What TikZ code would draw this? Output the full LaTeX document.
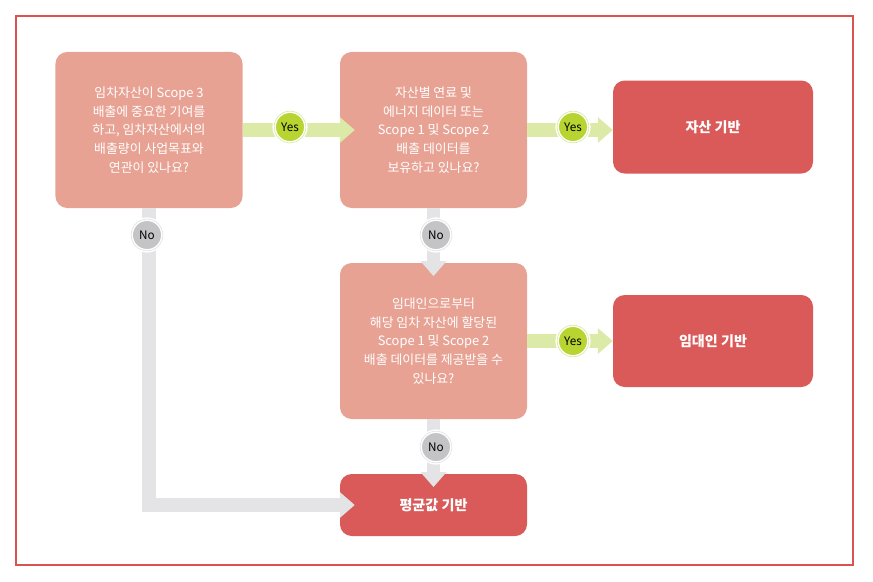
\documentclass[tikz,border=0pt]{standalone}
\usepackage{fontspec}
\setmainfont{Noto Sans CJK KR}
\usetikzlibrary{arrows.meta,positioning}
\definecolor{qbox}{HTML}{E8A294}
\definecolor{rbox}{HTML}{D95A58}
\definecolor{yesline}{HTML}{DCEAA8}
\definecolor{yesdot}{HTML}{B8D430}
\definecolor{noline}{HTML}{E4E4E6}
\definecolor{nodot}{HTML}{C4C4C6}
\definecolor{frame}{HTML}{D9534F}
\begin{document}
\begin{tikzpicture}[x=0.03cm, y=-0.03cm,
    question/.style={fill=qbox, rounded corners=10pt, text=white, align=center,
      minimum width=5.61cm, minimum height=4.68cm, inner sep=0pt,
      font=\fontsize{11pt}{16pt}\selectfont},
    result/.style={fill=rbox, rounded corners=10pt, text=white, align=center,
      minimum width=6cm, font=\bfseries\fontsize{12pt}{16pt}\selectfont},
    yesflow/.style={draw=yesline, line width=0.4cm, -{Triangle[length=0.45cm,width=0.75cm]}},
    noflow/.style={draw=noline, line width=0.4cm, -{Triangle[length=0.45cm,width=0.75cm]}},
    yesbadge/.style={circle, fill=yesdot, draw=white, double=yesline, double distance=0.6pt,
      line width=1.2pt, inner sep=1pt, minimum size=0.95cm, font=\fontsize{10pt}{12pt}\selectfont},
    nobadge/.style={circle, fill=nodot, draw=white, double=noline, double distance=0.6pt,
      line width=1.2pt, inner sep=1pt, minimum size=0.95cm, font=\fontsize{10pt}{12pt}\selectfont}]
  \useasboundingbox (0,0) rectangle (873,581);
  \draw[frame, line width=1pt] (16,16) rectangle (853,565);
  % boxes
  \node[question] (q1) at (149,130) {임차자산이 Scope 3\\배출에 중요한 기여를\\하고, 임차자산에서의\\배출량이 사업목표와\\연관이 있나요?};
  \node[question] (q2) at (433.5,130) {자산별 연료 및\\에너지 데이터 또는\\Scope 1 및 Scope 2\\배출 데이터를\\보유하고 있나요?};
  \node[question] (q3) at (433.5,341) {임대인으로부터\\해당 임차 자산에 할당된\\Scope 1 및 Scope 2\\배출 데이터를 제공받을 수\\있나요?};
  \node[result, minimum height=2.79cm] (r1) at (713,127) {자산 기반};
  \node[result, minimum height=2.76cm] (r2) at (713,341) {임대인 기반};
  \node[result, minimum width=5.61cm, minimum height=1.86cm] (r3) at (433.5,505) {평균값 기반};
  % connectors
  \coordinate (bend) at (q1.south |- r3.west);
  \draw[noflow] (q1.south) -- (bend) -- ([xshift=0.45cm]r3.west);
  \draw[noflow] (q2.south) -- ([yshift=-0.4cm]q3.north);
  \draw[noflow] (q3.south) -- ([yshift=-0.4cm]r3.north);
  \draw[yesflow] (q1.east) -- ([xshift=0.45cm]q2.west);
  \draw[yesflow] (q2.east) -- (q2.east -| r1.west);
  \draw[yesflow] (q3.east) -- (q3.east -| r2.west);
  % badges
  \node[yesbadge] (y1) at (290,127) {Yes};
  \node[yesbadge] (y2) at (573,127) {Yes};
  \node[yesbadge] (y3) at (573,341) {Yes};
  \node[nobadge] (n1) at (147,235) {No};
  \node[nobadge] (n2) at (436,235) {No};
  \node[nobadge] (n3) at (436,447) {No};
\end{tikzpicture}
\end{document}
